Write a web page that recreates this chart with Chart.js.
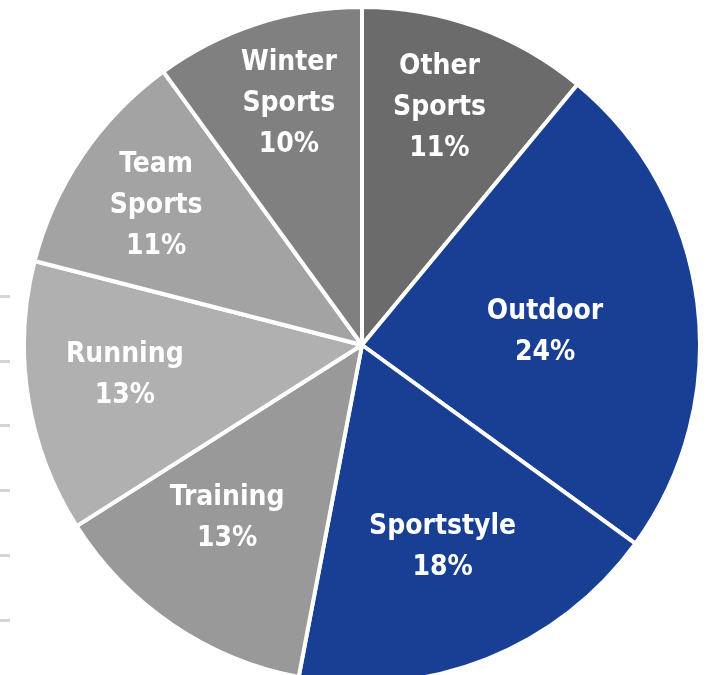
<!DOCTYPE html>
<html>
<head>
<meta charset="utf-8">
<script src="https://cdn.jsdelivr.net/npm/chart.js@4.4.1/dist/chart.umd.min.js"></script>
<style>
  html, body { margin: 0; padding: 0; background: #fff; overflow: hidden; width: 706px; height: 675px; }
  #wrap { position: absolute; left: 22px; top: 5px; width: 680px; height: 680px; }
  .tick { position: absolute; left: 0; width: 10px; height: 3px; background: #d4d4d4; }
</style>
</head>
<body>
<div class="tick" style="top:295px"></div>
<div class="tick" style="top:360px"></div>
<div class="tick" style="top:424px"></div>
<div class="tick" style="top:489px"></div>
<div class="tick" style="top:554px"></div>
<div class="tick" style="top:619px"></div>
<div id="wrap"><canvas id="myChart" width="680" height="680"></canvas></div>
<script>
// categorias en orden de reloj empezando arriba
var categorias = ["Other Sports", "Outdoor", "Sportstyle", "Training", "Running", "Team Sports", "Winter Sports"];
var porcentajes = [11, 24, 18, 13, 13, 11, 10];
var colores = ["#6b6b6b", "#183f94", "#183f94", "#999999", "#b0b0b0", "#a3a3a3", "#808080"];

// donde va cada etiqueta dentro de su rebanada (fraccion del radio, ajuste de angulo en grados)
var etiquetaRadio = [0.74, 0.54, 0.64, 0.65, 0.71, 0.74, 0.75];
var etiquetaGiro = [-2, 3, 0, 4, 2, 0, 1];

var etiquetas = {
    id: 'etiquetas',
    afterDatasetsDraw: function (chart) {
        var ctx = chart.ctx;
        var meta = chart.getDatasetMeta(0);
        ctx.save();
        ctx.fillStyle = "#ffffff";
        ctx.font = "bold 28px 'DejaVu Sans Condensed', 'DejaVu Sans', sans-serif";
        ctx.textAlign = "center";
        ctx.textBaseline = "middle";
        meta.data.forEach(function (arc, i) {
            var p = arc.getProps(['x', 'y', 'startAngle', 'endAngle', 'outerRadius'], true);
            var ang = (p.startAngle + p.endAngle) / 2 + etiquetaGiro[i] * Math.PI / 180;
            var r = p.outerRadius * etiquetaRadio[i];
            var cx = p.x + Math.cos(ang) * r;
            var cy = p.y + Math.sin(ang) * r;
            var lineas = categorias[i].split(" ");
            lineas.push(porcentajes[i] + "%");
            var alto = 41;
            var y0 = cy - (lineas.length - 1) * alto / 2;
            lineas.forEach(function (t, k) {
                ctx.fillText(t, cx + 1, y0 + k * alto + 1);
            });
        });
        ctx.restore();
    }
};

var grafica = new Chart(document.getElementById("myChart"), {
    type: 'pie',
    data: {
        labels: categorias,
        datasets: [{
            data: porcentajes,
            backgroundColor: colores,
            borderColor: "#ffffff",
            borderWidth: 4,
            hoverOffset: 0
        }]
    },
    options: {
        responsive: false,
        animation: false,
        layout: { padding: 0 },
        plugins: {
            legend: { display: false },
            tooltip: { enabled: false }
        }
    },
    plugins: [etiquetas]
});
</script>
</body>
</html>
